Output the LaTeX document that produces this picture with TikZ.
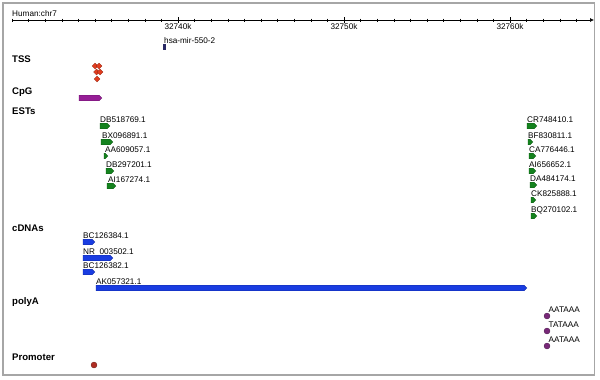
\documentclass[tikz,border=0pt]{standalone}
\usepackage{fontspec}
\setmainfont{Liberation Sans}
\usetikzlibrary{arrows.meta}

\definecolor{estgreen}{RGB}{20,130,30}
\definecolor{cdnablue}{RGB}{25,60,225}
\definecolor{cpgpurple}{RGB}{150,30,150}
\definecolor{polyapurple}{RGB}{120,40,120}
\definecolor{tssred}{RGB}{225,60,30}
\definecolor{promred}{RGB}{175,45,35}
\definecolor{mirnavy}{RGB}{40,40,100}

\tikzset{
  small/.style={font=\fontsize{8.2}{9}\selectfont, inner sep=0pt, anchor=base west},
  track/.style={font=\bfseries\fontsize{9.6}{11}\selectfont, inner sep=0pt, anchor=base west},
  tick/.style={line width=0.5pt},
}

% feature glyph: x1, x2, y, colour
\newcommand{\glyph}[4]{%
  \filldraw[draw=#4!70!black, fill=#4, line width=0.3pt]
    (#1,#3-2.8) -- (#2-3,#3-2.8) -- (#2,#3) -- (#2-3,#3+2.8) -- (#1,#3+2.8) -- cycle;}

\begin{document}
\begin{tikzpicture}[x=1pt, y=-1pt]
    \useasboundingbox (0,0) rectangle (600,380);
    \draw[gray!70, line width=1.2pt] (3,3) rectangle (594.5,375);

    % axis
    \node[small] (chr) at (12,16.5) {Human:chr7};
    \draw[line width=0.6pt, -{Latex[length=4pt,width=4pt]}] (12,20) -- (594,20);
    \foreach \k in {0,...,34}
        \draw[tick] (12+\k*16.6,18.5) -- (12+\k*16.6,21.5);
    \foreach \k/\lab in {10/32740k, 20/32750k, 30/32760k} {
        \draw[tick] (12+\k*16.6,17) -- (12+\k*16.6,23);
        \node[small, anchor=north] (t\k) at (12+\k*16.6,23.5) {\lab};
    }

    % miRNA
    \node[small] (mir) at (164,43.5) {hsa-mir-550-2};
    \fill[mirnavy] (163,44) rectangle (165.5,50);

    % track labels
    \node[track] (tss) at (12,62) {TSS};
    \node[track] (cpg) at (12,94) {CpG};
    \node[track] (ests) at (12,114) {ESTs};
    \node[track] (cdnas) at (12,231.5) {cDNAs};
    \node[track] (polya) at (12,304.5) {polyA};
    \node[track] (prom) at (12,360.5) {Promoter};

    % TSS
    \foreach \x/\y in {95/66, 99/66, 96.5/72, 100/72, 97/79}
        \filldraw[draw=tssred!60!black, fill=tssred, line width=0.3pt]
            (\x,\y-3) -- (\x+3,\y) -- (\x,\y+3) -- (\x-3,\y) -- cycle;

    % CpG
    \glyph{79}{102}{98}{cpgpurple}

    % ESTs
    \foreach \lx/\a/\b/\y/\lab in {
        100/100/110/126/DB518769.1, 102/101/113/142/BX096891.1,
        105/104/108/156/AA609057.1, 106/106/114/171/DB297201.1,
        108/107/116/186/AI167274.1,
        527/527/537/126/CR748410.1, 528/528/533/142/BF830811.1,
        529/529/536/156/CA776446.1, 529/529/536/171/AI656652.1,
        530/530/537/185/DA484174.1, 531/531/536/200/CK825888.1,
        531/531/537/216/BQ270102.1} {
        \node[small] (e\lab) at (\lx,\y-4) {\lab};
        \glyph{\a}{\b}{\y}{estgreen}
    }

    % cDNAs
    \foreach \lx/\a/\b/\y/\lab in {
        83/83/95/242/BC126384.1, 83/83/113/258/NR\_003502.1,
        83/83/95/272/BC126382.1, 96/96/527/288/AK057321.1} {
        \node[small] (c\y) at (\lx,\y-4) {\lab};
        \glyph{\a}{\b}{\y}{cdnablue}
    }

    % polyA
    \foreach \y/\lab in {316/AATAAA, 331/TATAAA, 346/AATAAA} {
        \node[small] (p\y) at (548.5,\y-4) {\lab};
        \filldraw[draw=polyapurple!60!black, fill=polyapurple, line width=0.3pt]
            (547,\y) circle (3);
    }

    % promoter
    \filldraw[draw=promred!60!black, fill=promred, line width=0.3pt] (94,365) circle (3);
\end{tikzpicture}
\end{document}
